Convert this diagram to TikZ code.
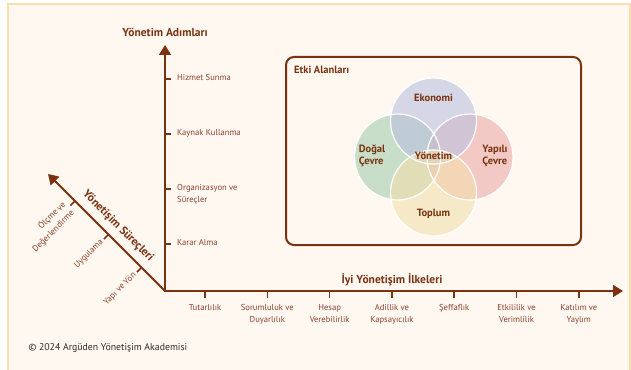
\documentclass[tikz,border=0pt]{standalone}
\usepackage{fontspec}
\setmainfont{PT Sans}
\usetikzlibrary{arrows.meta}
\usetikzlibrary{positioning}

\definecolor{cream}{HTML}{FEF8F1}
\definecolor{framecol}{HTML}{FDDCB0}
\definecolor{rust}{HTML}{7A3210}
\definecolor{rustlabel}{HTML}{8E3F2C}
\definecolor{ekocol}{HTML}{BBC1DF}
\definecolor{dogcol}{HTML}{A4CEAE}
\definecolor{yapcol}{HTML}{EAAAA9}
\definecolor{topcol}{HTML}{F2DFAD}
\definecolor{copytext}{HTML}{2E2A28}

\begin{document}
\begin{tikzpicture}[x=1pt,y=-1pt,
        axis/.style={rust, line width=1.8pt},
        tick/.style={rust, line width=1.5pt},
        ticklabel/.style={text=rustlabel, font=\fontsize{8.6}{12}\selectfont, inner sep=0pt},
        axistitle/.style={text=rust, font=\bfseries\fontsize{11.5}{13}\selectfont, inner sep=0pt},
        area/.style={circle, minimum size=86pt, inner sep=0pt, fill opacity=0.6},
        arealabel/.style={text=rust, font=\bfseries\fontsize{10.5}{12}\selectfont, align=left, inner sep=0pt}]

        \useasboundingbox (0,0) rectangle (631,369);
        \fill[white] (0,0) rectangle (631,369);
        \draw[fill=cream, draw=framecol, line width=2.5pt] (8,4) rectangle (630,385);

        % axes
        \coordinate (O) at (165,291);
        \coordinate (ytip) at (165,45);
        \coordinate (xtip) at (623,291);
        \coordinate (ztip) at (48,174);
        \draw[axis, {Triangle[width=12pt,length=10pt]}-{Triangle[width=12pt,length=10pt]}] (ytip) -- (O) -- (xtip);
        \draw[axis, -{Triangle[width=12pt,length=10pt]}] (O) -- (ztip);

        \node[axistitle] (ytitle) at (165,32) {Yönetim Adımları};
        \node[axistitle] (xtitle) at (392,280) {İyi Yönetişim İlkeleri};
        \node[axistitle, rotate=-45] (ztitle) at (118,226) {Yönetişim Süreçleri};

        % management steps
        \foreach \y/\name/\txt in {79/hizmet/Hizmet Sunma, 134/kaynak/Kaynak Kullanma,
                189/organ/{Organizasyon ve\\Süreçler}, 244/karar/Karar Alma} {
            \draw[tick] (165,\y) -- (171,\y) coordinate (\name);
            \node[ticklabel, anchor=north west, align=left] (\name-l) at ([xshift=6pt, yshift=5pt]\name) {\txt};
        }

        % principles
        \foreach \i/\txt in {0/Tutarlılık, 1/{Sorumluluk ve\\Duyarlılık}, 2/{Hesap\\Verebilirlik},
                3/{Adillik ve\\Kapsayıcılık}, 4/Şeffaflık, 5/{Etkililik ve\\Verimlilik}, 6/{Katılım ve\\Yaylım}} {
            \draw[tick] (205+62.3*\i,291) -- (205+62.3*\i,298) coordinate (p\i);
            \node[ticklabel, anchor=north, align=center] (p\i-l) at ([yshift=-6pt]p\i) {\txt};
        }

        % processes
        \foreach \t/\name/\txt in {23.5/yapi/Yapı ve Yön, 56.5/uyg/Uygulama, 90/olcme/{Ölçme ve\\Değerlendirme}} {
            \draw[tick] (165-\t,291-\t) -- ++(-4.5,4.5) coordinate (\name);
            \node[ticklabel, rotate=45, anchor=east, align=right] (\name-l) at ([shift={(-2,2)}]\name) {\txt};
        }

        % impact areas
        \node[draw=rust, line width=2pt, rounded corners=8pt, minimum width=295pt, minimum height=188pt,
            anchor=north west] (etki) at (285,56) {};
        \node[axistitle, anchor=north west, font=\bfseries\fontsize{10.5}{12}\selectfont] (etki-t) at ([shift={(9,10)}]etki.north west) {Etki Alanları};

        \node[area, fill=dogcol] (dogal) at (397.5,157) {};
        \node[area, fill=yapcol] (yapili) at (470,157) {};
        \node[area, fill=ekocol] (eko) at (433.5,121) {};
        \node[area, fill=topcol] (toplum) at (433.5,193) {};
        \foreach \c in {dogal,yapili,eko,toplum}
            \draw[white, line width=1.2pt] (\c.center) circle[radius=43pt];

        \node[arealabel] (eko-l) at (433.5,98) {Ekonomi};
        \node[arealabel] (dog-l) at (372,156) {Doğal\\Çevre};
        \node[arealabel] (yap-l) at (495,156) {Yapılı\\Çevre};
        \node[arealabel] (top-l) at (433.5,214) {Toplum};
        \node[arealabel] (yon-l) at (433.5,156) {Yönetim};

        \node[anchor=west, text=copytext, font=\fontsize{9.8}{11}\selectfont] (copy) at (25,348) {© 2024 Argüden Yönetişim Akademisi};
\end{tikzpicture}
\end{document}
